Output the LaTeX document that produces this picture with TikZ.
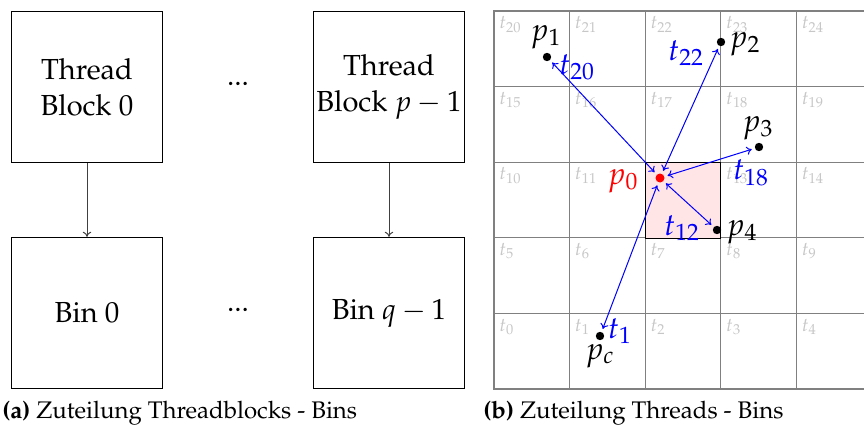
\documentclass[tikz,border=0pt]{standalone}
\usepackage[T1]{fontenc}
\usepackage{mathpazo}
\usetikzlibrary{arrows.meta,positioning}

\begin{document}
\begin{tikzpicture}[x=0.5pt,y=-0.5pt,
  >={To[length=2.6pt,width=4.2pt]},
  blk/.style={draw,line width=0.6pt,minimum size=75.5pt,inner sep=0pt,align=center,font=\fontsize{14.5}{18}\selectfont},
  link/.style={->,draw=black!75,line width=0.5pt},
  cell/.style={draw=gray,line width=0.6pt},
  tlbl/.style={anchor=north west,text=black!22,inner sep=2.5pt,font=\fontsize{9.5}{11}\selectfont},
  pnt/.style={circle,fill=black,inner sep=0pt,minimum size=4.2pt},
  plbl/.style={font=\fontsize{15.5}{18}\selectfont},
  dist/.style={<->,blue,line width=0.5pt,shorten <=1.5pt,shorten >=1.5pt},
  capt/.style={anchor=base west,inner sep=0pt,font=\fontsize{12}{14}\selectfont}
]
\useasboundingbox (0,0) rectangle (864,428);
\clip (0,0) rectangle (864,428);

% left: thread blocks and bins
\node[blk] (tb0) at (87,87) {Thread\\Block 0};
\node[blk] (tbp) at (389,87) {Thread\\Block $p-1$};
\node[blk] (bin0) at (87,313) {Bin 0};
\node[blk] (binq) at (389,313) {Bin $q-1$};
\node[font=\fontsize{14.5}{18}\selectfont] (dotstop) at (238,84) {...};
\node[font=\fontsize{14.5}{18}\selectfont] (dotsbot) at (238,310) {...};

\draw[link] (tb0) -- (bin0);
\draw[link] (tbp) -- (binq);

% right: 5x5 grid of threads
\foreach \r in {0,...,4}
  \foreach \c in {0,...,4} {
    \pgfmathtruncatemacro{\idx}{5*\r+\c}
    \draw[cell] (494+75.6*\c,389-75.6*\r) rectangle ++(75.6,-75.6);
    \node[tlbl] (t\idx) at (494+75.6*\c,313.4-75.6*\r) {$t_{\idx}$};
  }

% bin of p0
\draw[fill=red!10,line width=0.6pt] (645.2,162.8) rectangle ++(75.6,75.6);

\node[pnt,fill=red,minimum size=4.5pt] (p0) at (660,178) {};
\node[pnt] (p1) at (547,57) {};
\node[pnt] (p2) at (721,42) {};
\node[pnt] (p3) at (759,147) {};
\node[pnt] (p4) at (717,230) {};
\node[pnt] (pc) at (600,336) {};

\node[plbl,text=red] (lp0) at (623,181) {$p_0$};
\node[plbl] (lp1) at (546,37) {$p_1$};
\node[plbl] (lp2) at (745,44) {$p_2$};
\node[plbl] (lp3) at (758,128) {$p_3$};
\node[plbl] (lp4) at (742,232) {$p_4$};
\node[plbl] (lpc) at (600,356) {$p_c$};

\node[plbl,text=blue] (d20) at (577,67) {$t_{20}$};
\node[plbl,text=blue] (d22) at (686,53) {$t_{22}$};
\node[plbl,text=blue] (d18) at (751,173) {$t_{18}$};
\node[plbl,text=blue] (d12) at (682,228) {$t_{12}$};
\node[plbl,text=blue] (d1) at (620,331) {$t_{1}$};

\draw[dist] (p0) -- (p1);
\draw[dist] (p0) -- (p2);
\draw[dist] (p0) -- (p3);
\draw[dist] (p0) -- (p4);
\draw[dist] (p0) -- (pc);

\node[capt] (capa) at (2,418) {\textbf{(a)} Zuteilung Threadblocks - Bins};
\node[capt] (capb) at (483,418) {\textbf{(b)} Zuteilung Threads - Bins};
\end{tikzpicture}
\end{document}
